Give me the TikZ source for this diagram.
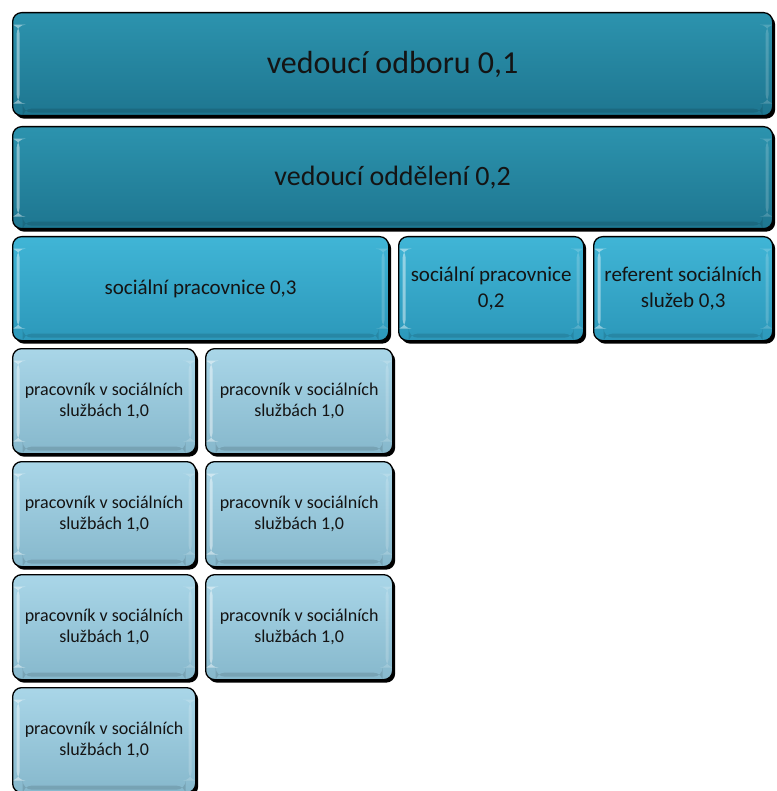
\documentclass[tikz,border=0pt]{standalone}
\usepackage{fontspec}
\setmainfont{Carlito}
\usetikzlibrary{shadows}
\definecolor{darkTop}{HTML}{2C93AE}
\definecolor{darkBot}{HTML}{1E7690}
\definecolor{midTop}{HTML}{40B5D6}
\definecolor{midBot}{HTML}{2C98BA}
\definecolor{lightTop}{HTML}{A9D6E8}
\definecolor{lightBot}{HTML}{86B8CC}
\definecolor{txt}{HTML}{141414}
\tikzset{
  x=1pt, y=1pt,
  tile/.style={rounded corners=9pt, draw=black, line width=1.3pt, anchor=north west,
    align=center, inner sep=3pt, text=txt,
    drop shadow={shadow xshift=2.5pt, shadow yshift=-3pt, fill=black, opacity=1},
    path picture={
      \fill[white,opacity=.45] ([xshift=4pt,yshift=-12pt]path picture bounding box.north west)
        rectangle ([xshift=7pt,yshift=12pt]path picture bounding box.south west);
      \fill[white,opacity=.18] ([xshift=-7pt,yshift=-12pt]path picture bounding box.north east)
        rectangle ([xshift=-4pt,yshift=12pt]path picture bounding box.south east);
      \fill[black,opacity=.12] ([xshift=10pt,yshift=7pt]path picture bounding box.south west)
        rectangle ([xshift=-10pt,yshift=3pt]path picture bounding box.south east);
    }},
  dark/.style={tile, top color=darkTop, bottom color=darkBot},
  mid/.style={tile, top color=midTop, bottom color=midBot, font=\fontsize{21}{26}\selectfont},
  light/.style={tile, top color=lightTop, bottom color=lightBot, font=\fontsize{18}{21}\selectfont},
}
\begin{document}
\begin{tikzpicture}
\useasboundingbox (0,0) rectangle (776,-791);
\node[dark, minimum width=760, minimum height=103, font=\fontsize{32}{38}\selectfont] (b1) at (12,-12) {vedoucí odboru 0,1};
\node[dark, minimum width=760, minimum height=102, font=\fontsize{28}{34}\selectfont] (b2) at (12,-126) {vedoucí oddělení 0,2};
\node[mid, minimum width=376, minimum height=104] (b3) at (12,-236) {sociální pracovnice 0,3};
\node[mid, minimum width=185, minimum height=104] (b4) at (398,-236) {sociální pracovnice\\0,2};
\node[mid, minimum width=179, minimum height=104] (b5) at (593,-236) {referent sociálních\\služeb 0,3};
\node[light, minimum width=183, minimum height=105] (p1) at (12,-348) {pracovník v sociálních\\službách 1,0};
\node[light, minimum width=187, minimum height=105] (p2) at (205,-348) {pracovník v sociálních\\službách 1,0};
\node[light, minimum width=183, minimum height=105] (p3) at (12,-461) {pracovník v sociálních\\službách 1,0};
\node[light, minimum width=187, minimum height=105] (p4) at (205,-461) {pracovník v sociálních\\službách 1,0};
\node[light, minimum width=183, minimum height=105] (p5) at (12,-574) {pracovník v sociálních\\službách 1,0};
\node[light, minimum width=187, minimum height=105] (p6) at (205,-574) {pracovník v sociálních\\službách 1,0};
\node[light, minimum width=183, minimum height=105] (p7) at (12,-687) {pracovník v sociálních\\službách 1,0};
\end{tikzpicture}
\end{document}
